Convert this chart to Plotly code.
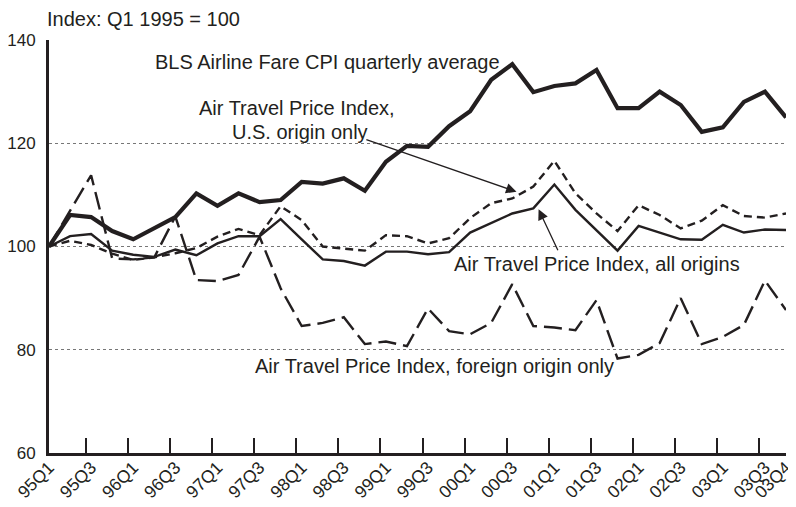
import plotly.graph_objects as go

quarters = [f"{y:02d}Q{q}" for y in [95, 96, 97, 98, 99, 0, 1, 2, 3] for q in [1, 2, 3, 4]]

bls_cpi = [100.0, 106.1, 105.7, 103.0, 101.4, 103.6, 105.7, 110.3, 107.9, 110.3, 108.6, 109.0,
           112.5, 112.2, 113.2, 110.8, 116.4, 119.5, 119.3, 123.3, 126.2, 132.3, 135.3, 129.9,
           131.1, 131.6, 134.2, 126.8, 126.8, 130.0, 127.4, 122.2, 123.1, 128.0, 130.0, 125.0]

all_origins = [100.0, 102.0, 102.4, 99.2, 98.4, 98.0, 99.4, 98.3, 100.6, 102.0, 102.0, 105.3,
               101.4, 97.5, 97.2, 96.3, 99.0, 99.0, 98.5, 98.9, 102.7, 104.6, 106.4, 107.4,
               112.0, 107.1, 103.2, 99.2, 104.0, 102.7, 101.4, 101.3, 104.2, 102.7, 103.3, 103.2]

us_origin = [100.0, 101.1, 100.3, 98.6, 97.4, 97.9, 98.7, 99.7, 101.9, 103.4, 102.2, 107.8,
             105.1, 100.0, 99.6, 99.2, 102.2, 102.0, 100.6, 101.6, 105.5, 108.4, 109.3, 111.6,
             116.6, 110.3, 106.4, 103.0, 108.0, 106.1, 103.5, 105.0, 108.0, 105.9, 105.6, 106.4]

foreign_origin = [100.0, 107.0, 113.8, 97.7, 97.5, 97.9, 105.8, 93.5, 93.3, 94.5, 101.9, 91.9,
                  84.6, 85.2, 86.3, 81.1, 81.6, 80.7, 88.0, 83.6, 83.0, 85.2, 92.7, 84.6,
                  84.3, 83.8, 89.6, 78.3, 79.0, 81.3, 90.0, 81.1, 82.5, 84.8, 93.4, 87.7]

tick_labels = quarters[0::2] + [quarters[-1]]
y_ticks = [60, 80, 100, 120, 140]

INK = "#231f20"
FONT = "Liberation Sans, Arial, sans-serif"

n = len(quarters)
xpos = list(range(n))  # quarter index along the axis
label_pos = [quarters.index(q) for q in tick_labels]
# tick marks sit slightly before each labelled quarter (last one at the axis end)
tick_mark_pos = [0] + [p - 0.26 for p in label_pos[1:-1]] + [n - 1]

fig = go.Figure()
fig.add_trace(go.Scatter(x=xpos, y=foreign_origin, mode="lines",
                         line=dict(color=INK, width=2.4, dash="18px,7px"), name="foreign"))
fig.add_trace(go.Scatter(x=xpos, y=us_origin, mode="lines",
                         line=dict(color=INK, width=2.4, dash="8px,5px"), name="us"))
fig.add_trace(go.Scatter(x=xpos, y=all_origins, mode="lines",
                         line=dict(color=INK, width=2.4), name="all"))
fig.add_trace(go.Scatter(x=xpos, y=bls_cpi, mode="lines",
                         line=dict(color=INK, width=4.2), name="bls"))
# invisible copy on the label axis so that axis is rendered
fig.add_trace(go.Scatter(x=xpos, y=bls_cpi, mode="lines", xaxis="x2", opacity=0,
                         line=dict(color="rgba(0,0,0,0)", width=0), hoverinfo="skip",
                         showlegend=False))

# the page body adds an 8px offset, so the figure is sized/margined to compensate
fig.update_layout(
    width=788, height=499,
    margin=dict(l=41, r=10, t=32, b=54),
    plot_bgcolor="white", paper_bgcolor="white",
    showlegend=False,
    font=dict(family=FONT, color=INK, size=19),
    xaxis=dict(range=[0, n - 1], tickmode="array", tickvals=tick_mark_pos,
               ticks="inside", ticklen=15, tickwidth=1.5, tickcolor=INK,
               showticklabels=False, showgrid=False, zeroline=False,
               showline=True, linecolor=INK, linewidth=2.5, automargin=False),
    xaxis2=dict(overlaying="x", anchor="y", side="bottom", range=[0, n - 1],
                tickmode="array", tickvals=label_pos, ticktext=tick_labels,
                tickangle=-45, ticks="", showgrid=False, zeroline=False, showline=False,
                tickfont=dict(size=17.5, family=FONT, color=INK), automargin=False),
    yaxis=dict(range=[60, 140], tickvals=y_ticks, ticks="", showgrid=True,
               gridcolor="#777", griddash="dot", gridwidth=1, zeroline=False,
               showline=True, linecolor=INK, linewidth=3,
               tickfont=dict(size=17, family=FONT, color=INK), ticklabelstandoff=7,
               automargin=False),
)

ann_font = dict(family=FONT, size=20, color=INK)
fig.add_annotation(text="Index: Q1 1995 = 100", xref="paper", yref="paper", x=-0.005, y=1.051,
                   xanchor="left", yanchor="middle", showarrow=False, font=ann_font)
fig.add_annotation(text="BLS Airline Fare CPI quarterly average", x=4.94, y=135.7,
                   xanchor="left", yanchor="middle", showarrow=False, font=ann_font)
fig.add_annotation(text="Air Travel Price Index,", x=11.78, y=126.8,
                   xanchor="center", yanchor="middle", showarrow=False, font=ann_font)
fig.add_annotation(text="U.S. origin only", x=11.9, y=122.1,
                   xanchor="center", yanchor="middle", showarrow=False, font=ann_font)
fig.add_annotation(text="Air Travel Price Index, all origins", x=19.13, y=96.6,
                   xanchor="left", yanchor="middle", showarrow=False, font=ann_font)
fig.add_annotation(text="Air Travel Price Index, foreign origin only", x=9.68, y=76.9,
                   xanchor="left", yanchor="middle", showarrow=False, font=ann_font)

# arrows
fig.add_annotation(text="", x=22.2, y=110.6, ax=15.0, ay=120.8, axref="x", ayref="y",
                   showarrow=True, arrowhead=2, arrowsize=1.6, arrowwidth=1.3, arrowcolor=INK)
fig.add_annotation(text="", x=23.25, y=107.2, ax=24.2, ay=99.0, axref="x", ayref="y",
                   showarrow=True, arrowhead=2, arrowsize=1.6, arrowwidth=1.3, arrowcolor=INK)

fig.write_html("out.html")
